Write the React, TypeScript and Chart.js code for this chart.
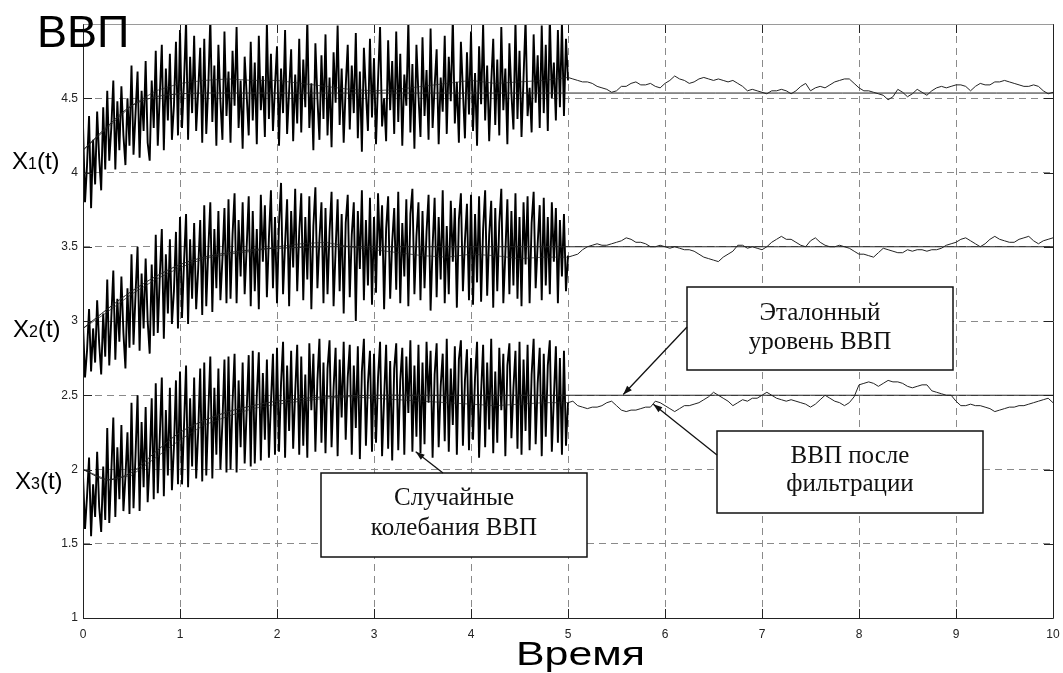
import React, { useEffect, useRef } from "react";
import { Chart, registerables } from "chart.js";

Chart.register(...registerables);

// ---------- DATA ----------
const xTicks = [0, 1, 2, 3, 4, 5, 6, 7, 8, 9, 10];
const yTicks = [1, 1.5, 2, 2.5, 3, 3.5, 4, 4.5, 5];

const yTitle = "ВВП";
const xTitle = "Время";
const seriesLabels = ["1", "2", "3"];

// noisy (random fluctuations) segment: t = 0..5, step 1/48
const noiseT0 = 0;
const noiseDt = 1 / 48;
const x1Noise = [
  4.32, 3.80, 4.05, 4.38, 3.76, 4.22, 3.92, 4.41, 4.10, 3.88, 4.44, 4.02,
  4.55, 4.08, 4.30, 4.62, 4.02, 4.48, 4.15, 4.58, 4.25, 4.05, 4.50, 4.18,
  4.72, 4.12, 4.40, 4.68, 4.10, 4.55, 4.28, 4.75, 4.20, 4.08, 4.62, 4.30,
  4.82, 4.18, 4.52, 4.86, 4.15, 4.70, 4.35, 4.80, 4.22, 4.45, 4.88, 4.25,
  4.96, 4.30, 4.62, 5.02, 4.22, 4.78, 4.40, 4.92, 4.28, 4.55, 4.84, 4.20,
  4.90, 4.26, 4.58, 5.04, 4.34, 4.72, 4.18, 4.86, 4.48, 4.22, 4.95, 4.38,
  4.68, 4.20, 4.82, 4.45, 4.98, 4.30, 4.62, 4.16, 4.78, 4.52, 4.25, 4.88,
  4.35, 4.74, 4.19, 4.92, 4.42, 4.65, 4.24, 5.01, 4.36, 4.80, 4.28, 4.58,
  4.85, 4.18, 4.70, 4.40, 4.96, 4.26, 4.55, 4.83, 4.21, 4.66, 4.33, 4.90,
  4.27, 4.76, 4.44, 5.03, 4.30, 4.60, 4.15, 4.87, 4.50, 4.22, 4.79, 4.36,
  4.93, 4.25, 4.64, 4.17, 4.81, 4.47, 4.99, 4.32, 4.70, 4.20, 4.58, 4.86,
  4.29, 4.72, 4.40, 4.94, 4.23, 4.68, 4.14, 4.84, 4.54, 4.28, 4.90, 4.37,
  4.77, 4.19, 4.62, 4.98, 4.31, 4.50, 4.21, 4.89, 4.42, 4.75, 4.26, 4.95,
  4.34, 4.80, 4.18, 4.66, 4.45, 5.02, 4.27, 4.73, 4.16, 4.86, 4.52, 4.24,
  4.91, 4.38, 4.69, 4.22, 4.97, 4.30, 4.58, 4.83, 4.19, 4.64, 4.41, 4.92,
  4.26, 4.78, 4.48, 5.04, 4.33, 4.61, 4.20, 4.88, 4.55, 4.23, 4.81, 4.39,
  4.95, 4.28, 4.67, 4.18, 4.85, 4.46, 5.00, 4.35, 4.72, 4.21, 4.60, 4.90,
  4.32, 4.76, 4.25, 4.98, 4.42, 4.70, 4.19, 4.87, 4.53, 4.29, 5.02, 4.36,
  4.82, 4.24, 4.64, 5.03, 4.38, 4.57, 4.27, 4.93, 4.47, 4.79, 4.30, 4.99,
  4.40, 4.86, 4.28, 5.05, 4.50, 4.74, 4.35, 4.96, 4.44, 5.01, 4.38, 4.90,
  4.62,
];
const x2Noise = [
  2.98, 2.62, 2.80, 3.08, 2.66, 2.95, 2.72, 3.14, 2.85, 2.64, 3.05, 2.76,
  3.28, 2.70, 3.02, 3.34, 2.74, 3.15, 2.86, 3.30, 2.92, 2.68, 3.22, 2.82,
  3.45, 2.84, 3.18, 3.50, 2.80, 3.32, 2.95, 3.42, 3.00, 2.78, 3.38, 2.90,
  3.58, 2.92, 3.30, 3.62, 2.88, 3.45, 3.05, 3.55, 2.98, 3.20, 3.60, 2.95,
  3.70, 3.02, 3.40, 3.72, 2.98, 3.55, 3.15, 3.66, 3.08, 3.35, 3.68, 3.04,
  3.78, 3.10, 3.48, 3.80, 3.06, 3.62, 3.22, 3.74, 3.14, 3.42, 3.76, 3.12,
  3.82, 3.15, 3.58, 3.86, 3.12, 3.68, 3.30, 3.80, 3.18, 3.50, 3.84, 3.10,
  3.74, 3.20, 3.62, 3.08, 3.85, 3.40, 3.78, 3.16, 3.56, 3.88, 3.22, 3.70,
  3.12, 3.66, 3.93, 3.18, 3.52, 3.82, 3.10, 3.74, 3.36, 3.89, 3.20, 3.60,
  3.86, 3.14, 3.70, 3.28, 3.84, 3.08, 3.64, 3.90, 3.22, 3.55, 3.80, 3.12,
  3.76, 3.18, 3.60, 3.87, 3.10, 3.48, 3.82, 3.20, 3.72, 3.05, 3.66, 3.85,
  3.16, 3.58, 3.80, 3.00, 3.74, 3.35, 3.88, 3.14, 3.68, 3.24, 3.83, 3.11,
  3.70, 3.19, 3.86, 3.44, 3.78, 3.08, 3.62, 3.84, 3.15, 3.53, 3.76, 3.21,
  3.87, 3.12, 3.66, 3.30, 3.82, 3.10, 3.72, 3.89, 3.18, 3.57, 3.80, 3.14,
  3.74, 3.22, 3.60, 3.85, 3.07, 3.50, 3.83, 3.16, 3.70, 3.28, 3.88, 3.12,
  3.64, 3.18, 3.81, 3.40, 3.76, 3.09, 3.68, 3.86, 3.20, 3.54, 3.79, 3.14,
  3.85, 3.11, 3.72, 3.26, 3.84, 3.13, 3.62, 3.88, 3.17, 3.58, 3.81, 3.09,
  3.76, 3.20, 3.66, 3.89, 3.12, 3.46, 3.82, 3.18, 3.74, 3.24, 3.86, 3.15,
  3.70, 3.10, 3.80, 3.38, 3.84, 3.12, 3.66, 3.87, 3.22, 3.52, 3.78, 3.14,
  3.83, 3.24, 3.70, 3.18, 3.80, 3.40, 3.76, 3.12, 3.68, 3.30, 3.72, 3.20,
  3.44,
];
const x3Noise = [
  1.96, 1.60, 1.82, 2.08, 1.55, 1.90, 1.68, 2.12, 1.75, 1.58, 2.02, 1.66,
  2.28, 1.64, 1.98, 2.35, 1.68, 2.15, 1.80, 2.30, 1.72, 1.95, 2.25, 1.70,
  2.45, 1.74, 2.10, 2.50, 1.72, 2.32, 1.88, 2.42, 1.78, 2.05, 2.48, 1.80,
  2.58, 1.84, 2.22, 2.62, 1.82, 2.40, 1.96, 2.55, 1.86, 2.15, 2.60, 1.90,
  2.66, 1.90, 2.30, 2.70, 1.88, 2.48, 2.02, 2.62, 1.94, 2.25, 2.68, 1.92,
  2.72, 1.96, 2.38, 2.76, 1.94, 2.55, 2.10, 2.68, 2.00, 2.32, 2.74, 1.98,
  2.76, 2.00, 2.45, 2.78, 1.98, 2.60, 2.15, 2.72, 2.04, 2.40, 2.77, 2.02,
  2.80, 2.04, 2.50, 2.79, 2.06, 2.65, 2.20, 2.74, 2.08, 2.45, 2.78, 2.10,
  2.82, 2.12, 2.58, 2.86, 2.08, 2.70, 2.26, 2.80, 2.14, 2.52, 2.84, 2.10,
  2.76, 2.16, 2.64, 2.08, 2.85, 2.40, 2.78, 2.12, 2.60, 2.88, 2.18, 2.72,
  2.11, 2.68, 2.87, 2.15, 2.55, 2.82, 2.09, 2.74, 2.35, 2.86, 2.20, 2.62,
  2.84, 2.10, 2.70, 2.28, 2.83, 2.07, 2.66, 2.88, 2.16, 2.58, 2.80, 2.12,
  2.78, 2.18, 2.62, 2.86, 2.09, 2.48, 2.84, 2.14, 2.73, 2.06, 2.68, 2.85,
  2.13, 2.60, 2.82, 2.10, 2.76, 2.38, 2.87, 2.12, 2.70, 2.22, 2.84, 2.11,
  2.72, 2.17, 2.86, 2.45, 2.80, 2.08, 2.64, 2.85, 2.15, 2.56, 2.78, 2.19,
  2.88, 2.12, 2.68, 2.30, 2.83, 2.10, 2.74, 2.87, 2.16, 2.60, 2.81, 2.13,
  2.75, 2.20, 2.62, 2.86, 2.08, 2.52, 2.84, 2.15, 2.72, 2.27, 2.88, 2.11,
  2.66, 2.18, 2.82, 2.40, 2.78, 2.09, 2.70, 2.85, 2.21, 2.55, 2.80, 2.14,
  2.86, 2.10, 2.74, 2.26, 2.84, 2.13, 2.64, 2.88, 2.17, 2.58, 2.82, 2.09,
  2.78, 2.22, 2.70, 2.87, 2.12, 2.48, 2.83, 2.18, 2.75, 2.10, 2.80, 2.16,
  2.45,
];

// reference (target) GDP level
const refTimes = [0, 0.25, 0.5, 0.75, 1, 1.25, 1.5, 1.75, 2, 2.5, 3, 3.5, 4, 5, 10];
const x1Ref = [4.15, 4.31, 4.45, 4.51, 4.53, 4.535, 4.535, 4.535, 4.535, 4.535, 4.535, 4.535, 4.535, 4.535, 4.535];
const x2Ref = [2.95, 3.08, 3.2, 3.3, 3.38, 3.43, 3.46, 3.48, 3.49, 3.5, 3.5, 3.5, 3.5, 3.5, 3.5];
const x3Ref = [2.0, 1.93, 1.98, 2.12, 2.25, 2.33, 2.39, 2.43, 2.46, 2.49, 2.5, 2.5, 2.5, 2.5, 2.5];

// filtered estimate during the noisy period: t = 0..5 step 0.25
const estT0 = 0;
const estDt = 0.25;
const x1Est = [4.15, 4.3, 4.45, 4.55, 4.6, 4.62, 4.63, 4.62, 4.62, 4.6, 4.58, 4.56, 4.55, 4.56, 4.58, 4.6, 4.62, 4.6, 4.61, 4.62, 4.64];
const x2Est = [2.95, 3.06, 3.18, 3.28, 3.36, 3.42, 3.45, 3.47, 3.5, 3.52, 3.53, 3.5, 3.48, 3.46, 3.44, 3.43, 3.45, 3.44, 3.42, 3.43, 3.43];
const x3Est = [2.0, 1.93, 1.96, 2.08, 2.2, 2.3, 2.36, 2.41, 2.44, 2.46, 2.48, 2.49, 2.48, 2.47, 2.46, 2.45, 2.44, 2.43, 2.44, 2.45, 2.45];

// GDP after filtering: t = 5..10 step 0.05
const filtT0 = 5;
const filtDt = 0.05;
const x1Filt = [
  4.64, 4.63, 4.62, 4.61, 4.61, 4.60, 4.58, 4.57, 4.56, 4.54,
  4.55, 4.58, 4.58, 4.60, 4.61, 4.59, 4.59, 4.60, 4.58, 4.57,
  4.60, 4.62, 4.65, 4.63, 4.62, 4.60, 4.61, 4.63, 4.64, 4.63,
  4.62, 4.63, 4.62, 4.61, 4.62, 4.60, 4.58, 4.55, 4.56, 4.55,
  4.54, 4.53, 4.55, 4.55, 4.56, 4.55, 4.53, 4.55, 4.58, 4.60,
  4.55, 4.57, 4.58, 4.57, 4.59, 4.61, 4.62, 4.63, 4.63, 4.60,
  4.57, 4.55, 4.55, 4.54, 4.53, 4.52, 4.49, 4.51, 4.56, 4.54,
  4.51, 4.53, 4.56, 4.54, 4.52, 4.55, 4.57, 4.58, 4.57, 4.58,
  4.59, 4.59, 4.58, 4.55, 4.58, 4.60, 4.59, 4.59, 4.61, 4.61,
  4.62, 4.61, 4.60, 4.59, 4.58, 4.58, 4.59, 4.58, 4.55, 4.53,
  4.54,
];
const x2Filt = [
  3.43, 3.44, 3.45, 3.48, 3.50, 3.51, 3.52, 3.51, 3.51, 3.52,
  3.53, 3.54, 3.56, 3.55, 3.53, 3.53, 3.52, 3.50, 3.50, 3.51,
  3.50, 3.49, 3.50, 3.49, 3.48, 3.48, 3.47, 3.45, 3.43, 3.42,
  3.41, 3.40, 3.43, 3.45, 3.47, 3.51, 3.51, 3.49, 3.50, 3.49,
  3.48, 3.50, 3.53, 3.55, 3.57, 3.55, 3.55, 3.53, 3.51, 3.50,
  3.54, 3.56, 3.53, 3.51, 3.50, 3.50, 3.51, 3.50, 3.49, 3.47,
  3.45, 3.45, 3.44, 3.43, 3.46, 3.49, 3.48, 3.47, 3.46, 3.46,
  3.48, 3.47, 3.48, 3.48, 3.47, 3.48, 3.48, 3.49, 3.51, 3.52,
  3.53, 3.55, 3.56, 3.54, 3.52, 3.50, 3.52, 3.55, 3.57, 3.55,
  3.54, 3.53, 3.53, 3.55, 3.56, 3.57, 3.54, 3.52, 3.54, 3.55,
  3.56,
];
const x3Filt = [
  2.45, 2.46, 2.43, 2.42, 2.41, 2.42, 2.42, 2.43, 2.45, 2.46,
  2.43, 2.40, 2.39, 2.40, 2.40, 2.41, 2.42, 2.42, 2.46, 2.45,
  2.43, 2.41, 2.39, 2.41, 2.43, 2.43, 2.44, 2.45, 2.47, 2.49,
  2.52, 2.50, 2.48, 2.46, 2.43, 2.45, 2.47, 2.46, 2.48, 2.48,
  2.50, 2.52, 2.50, 2.48, 2.47, 2.46, 2.47, 2.46, 2.45, 2.44,
  2.42, 2.44, 2.47, 2.50, 2.48, 2.46, 2.45, 2.43, 2.45, 2.49,
  2.57, 2.58, 2.59, 2.58, 2.56, 2.58, 2.60, 2.59, 2.59, 2.58,
  2.56, 2.55, 2.56, 2.57, 2.57, 2.53, 2.52, 2.51, 2.50, 2.50,
  2.46, 2.43, 2.43, 2.44, 2.43, 2.43, 2.42, 2.41, 2.39, 2.40,
  2.41, 2.42, 2.42, 2.43, 2.43, 2.44, 2.45, 2.46, 2.47, 2.48,
  2.45,
];

const annotations = [
  { lines: ["Эталонный", "уровень ВВП"] },
  { lines: ["ВВП после", "фильтрации"] },
  { lines: ["Случайные", "колебания ВВП"] },
];

// ---------- HELPERS ----------
const pts = (t0: number, dt: number, vals: number[]) =>
  vals.map((v, i) => ({ x: t0 + i * dt, y: v }));
const ptsT = (ts: number[], vals: number[]) => vals.map((v, i) => ({ x: ts[i], y: v }));

const SANS = "'Liberation Sans', Arial, Helvetica, sans-serif";
const SERIF = "'Liberation Serif', 'Times New Roman', serif";

function arrow(ctx: CanvasRenderingContext2D, x1: number, y1: number, x2: number, y2: number) {
  ctx.beginPath();
  ctx.moveTo(x1, y1);
  ctx.lineTo(x2, y2);
  ctx.stroke();
  const ang = Math.atan2(y2 - y1, x2 - x1);
  const L = 9, W = 3.2;
  ctx.beginPath();
  ctx.moveTo(x2, y2);
  ctx.lineTo(x2 - L * Math.cos(ang) + W * Math.sin(ang), y2 - L * Math.sin(ang) - W * Math.cos(ang));
  ctx.lineTo(x2 - L * Math.cos(ang) - W * Math.sin(ang), y2 - L * Math.sin(ang) + W * Math.cos(ang));
  ctx.closePath();
  ctx.fill();
}

const overlayPlugin = {
  id: "overlay",
  afterDatasetsDraw(chart: any) {
    const { ctx, chartArea: a, scales } = chart;
    const xs = scales.x, ys = scales.y;
    ctx.save();
    // inner tick marks
    ctx.strokeStyle = "#222";
    ctx.lineWidth = 1;
    ctx.setLineDash([]);
    ctx.beginPath();
    for (const v of xTicks) {
      const px = Math.round(xs.getPixelForValue(v)) + 0.5;
      ctx.moveTo(px, a.bottom); ctx.lineTo(px, a.bottom - 9);
      ctx.moveTo(px, a.top); ctx.lineTo(px, a.top + 9);
    }
    for (const v of yTicks) {
      const py = Math.round(ys.getPixelForValue(v)) + 0.5;
      ctx.moveTo(a.left, py); ctx.lineTo(a.left + 9, py);
      ctx.moveTo(a.right, py); ctx.lineTo(a.right - 9, py);
    }
    ctx.stroke();
    // axes box
    const L = Math.round(a.left) + 0.5, R = Math.round(a.right) + 0.5;
    const T = Math.round(a.top) + 0.5, B = Math.round(a.bottom) + 0.5;
    ctx.strokeStyle = "#9a9a9a";
    ctx.beginPath(); ctx.moveTo(L, T); ctx.lineTo(R, T); ctx.stroke();
    ctx.strokeStyle = "#222";
    ctx.beginPath(); ctx.moveTo(L, T); ctx.lineTo(L, B); ctx.lineTo(R, B); ctx.lineTo(R, T); ctx.stroke();

    // axis titles
    ctx.fillStyle = "#000";
    ctx.textBaseline = "alphabetic";
    ctx.textAlign = "left";
    ctx.font = `45px ${SANS}`;
    ctx.fillText(yTitle, 37, ys.getPixelForValue(5) + 23);
    ctx.save();
    ctx.font = `33px ${SANS}`;
    ctx.translate(516, a.bottom + 47);
    ctx.scale(1.3, 1);
    ctx.fillText(xTitle, 0, 0);
    ctx.restore();

    // series labels X1(t), X2(t), X3(t)
    const lab = [
      { sub: seriesLabels[0], x: 12, base: ys.getPixelForValue(4) - 4 },
      { sub: seriesLabels[1], x: 13, base: ys.getPixelForValue(3) + 16 },
      { sub: seriesLabels[2], x: 15, base: ys.getPixelForValue(2) + 19 },
    ];
    ctx.textAlign = "left";
    for (const l of lab) {
      let cx = l.x;
      ctx.font = `24px ${SANS}`;
      ctx.fillText("X", cx, l.base);
      cx += ctx.measureText("X").width;
      ctx.font = `16px ${SANS}`;
      ctx.fillText(l.sub, cx, l.base);
      cx += ctx.measureText(l.sub).width;
      ctx.font = `24px ${SANS}`;
      ctx.fillText("(t)", cx, l.base);
    }

    // annotation boxes
    const boxes = [
      { x0: 687, y0: 287, x1: 953, y1: 370, bases: [320, 349] },
      { x0: 717, y0: 431, x1: 983, y1: 513, bases: [463, 491] },
      { x0: 321, y0: 473, x1: 587, y1: 557, bases: [505, 535] },
    ];
    ctx.lineWidth = 1.5;
    ctx.strokeStyle = "#111";
    boxes.forEach((b, i) => {
      ctx.fillStyle = "#fff";
      ctx.fillRect(b.x0, b.y0, b.x1 - b.x0, b.y1 - b.y0);
      ctx.strokeRect(b.x0, b.y0, b.x1 - b.x0, b.y1 - b.y0);
      ctx.fillStyle = "#111";
      ctx.font = `25px ${SERIF}`;
      ctx.textAlign = "center";
      annotations[i].lines.forEach((t, k) => ctx.fillText(t, (b.x0 + b.x1) / 2, b.bases[k]));
    });
    // arrows pointing to curves
    ctx.fillStyle = "#111";
    ctx.lineWidth = 1.3;
    arrow(ctx, 687, 327, xs.getPixelForValue(5.57), ys.getPixelForValue(2.505));
    arrow(ctx, 717, 455, xs.getPixelForValue(5.88), ys.getPixelForValue(2.44));
    arrow(ctx, 443, 473, xs.getPixelForValue(3.43), ys.getPixelForValue(2.12));
    ctx.restore();
  },
};

export default function App() {
  const ref = useRef<HTMLCanvasElement | null>(null);
  useEffect(() => {
    if (!ref.current) return;
    const noiseStyle = { borderColor: "#000", borderWidth: 1.9, pointRadius: 0, tension: 0, order: 3 };
    const refStyle = { borderColor: "#222", borderWidth: 1, pointRadius: 0, tension: 0.3, order: 2 };
    const filtStyle = { borderColor: "#222", borderWidth: 1, pointRadius: 0, tension: 0, order: 1 };
    const chart = new Chart(ref.current, {
      type: "line",
      data: {
        datasets: [
          { ...noiseStyle, data: pts(noiseT0, noiseDt, x1Noise) },
          { ...noiseStyle, data: pts(noiseT0, noiseDt, x2Noise) },
          { ...noiseStyle, data: pts(noiseT0, noiseDt, x3Noise) },
          { ...refStyle, data: ptsT(refTimes, x1Ref) },
          { ...refStyle, data: ptsT(refTimes, x2Ref) },
          { ...refStyle, data: ptsT(refTimes, x3Ref) },
          { ...filtStyle, borderColor: "rgba(30,30,30,0.7)", data: pts(estT0, estDt, x1Est) },
          { ...filtStyle, borderColor: "rgba(30,30,30,0.7)", data: pts(estT0, estDt, x2Est) },
          { ...filtStyle, borderColor: "rgba(30,30,30,0.7)", data: pts(estT0, estDt, x3Est) },
          { ...filtStyle, data: pts(filtT0, filtDt, x1Filt) },
          { ...filtStyle, data: pts(filtT0, filtDt, x2Filt) },
          { ...filtStyle, data: pts(filtT0, filtDt, x3Filt) },
        ] as any,
      },
      options: {
        animation: false,
        responsive: false,
        devicePixelRatio: 1,
        layout: { padding: { top: 24, right: 10, left: 0, bottom: 0 } },
        plugins: { legend: { display: false }, tooltip: { enabled: false } },
        scales: {
          x: {
            type: "linear",
            min: 0,
            max: 10,
            afterFit: (s: any) => { s.height = 55; s.paddingLeft = 0; s.paddingRight = 0; },
            afterBuildTicks: (s: any) => { s.ticks = xTicks.map((v) => ({ value: v })); },
            ticks: { font: { size: 12, family: SANS }, color: "#222", padding: 9, maxRotation: 0, autoSkip: false },
            grid: { color: "#8a8a8a", lineWidth: 1, drawTicks: false },
            border: { display: false, dash: [7, 5] },
          },
          y: {
            type: "linear",
            min: 1,
            max: 5,
            afterFit: (s: any) => { s.width = 83; s.paddingTop = 0; s.paddingBottom = 0; },
            afterBuildTicks: (s: any) => { s.ticks = yTicks.map((v) => ({ value: v })); },
            ticks: {
              font: { size: 12, family: SANS },
              color: "#222",
              padding: 5,
              callback: (v: any) => (v === 5 ? "" : String(v)),
            },
            grid: { color: "#8a8a8a", lineWidth: 1, drawTicks: false },
            border: { display: false, dash: [7, 5] },
          },
        },
      } as any,
      plugins: [overlayPlugin],
    });
    return () => chart.destroy();
  }, []);
  return (
    <div style={{ position: "fixed", left: 0, top: 0, width: 1063, height: 673, background: "#fff" }}>
      <canvas ref={ref} width={1063} height={673} style={{ display: "block" }} />
    </div>
  );
}
